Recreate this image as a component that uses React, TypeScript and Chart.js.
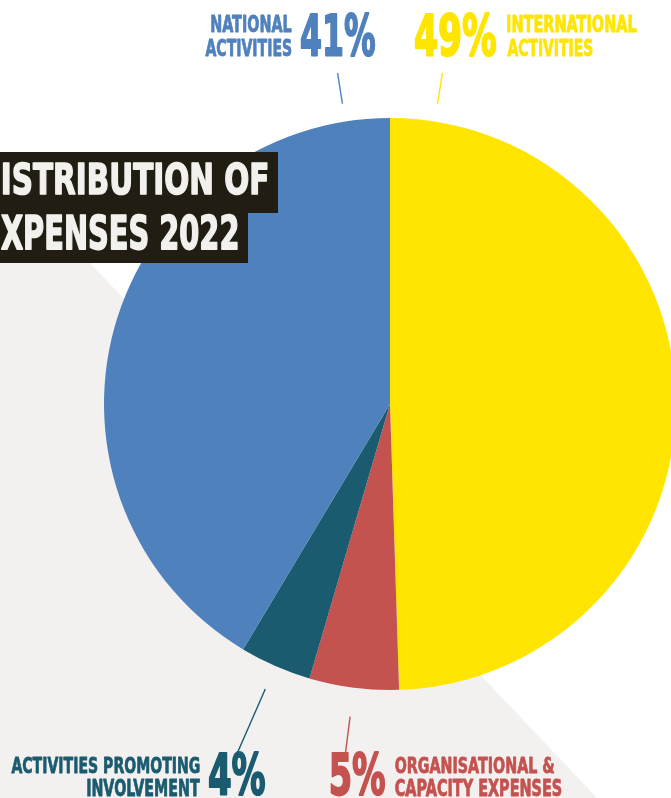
import { useEffect, useRef } from "react";
import { Chart, registerables } from "chart.js";

Chart.register(...registerables);

// ---- data ----
const categories = [
  "International activities",
  "Organisational & capacity expenses",
  "Activities promoting involvement",
  "National activities",
];
const values = [49, 5, 4, 41];
const sliceColors = ["#FFE500", "#C4524F", "#1B5B70", "#4F81BD"];
const percentLabels = values.map((v) => `${v}%`);
const nameLines = [
  ["INTERNATIONAL", "ACTIVITIES"],
  ["ORGANISATIONAL &", "CAPACITY EXPENSES"],
  ["ACTIVITIES PROMOTING", "INVOLVEMENT"],
  ["NATIONAL", "ACTIVITIES"],
];
const titleLines = ["ISTRIBUTION OF", "XPENSES 2022"];

// ---- layout (styling only) ----
type Box = [number, number, number, number]; // left, right, capTop, baseline
const pctBoxes: Box[] = [
  [414, 497, 13, 57],
  [330, 386, 752, 796],
  [208, 266, 752, 796],
  [300, 376, 13, 57],
];
const nameBoxes: Box[][] = [
  [[507, 637, 15, 32], [507, 593, 39, 56]],
  [[395, 555, 757, 773], [395, 562, 779, 796]],
  [[11, 200, 757, 773], [87, 200, 779, 796]],
  [[211, 292, 15, 32], [205, 292, 39, 56]],
];
// leader: anchor on slice, angular offset (deg), inner/outer radius
const leaders: { anchor: "start" | "end" | "mid"; off: number; r1: number; r2: number }[] = [
  { anchor: "start", off: 9, r1: 304, r2: 335 },
  { anchor: "mid", off: 0, r1: 315, r2: 358 },
  { anchor: "mid", off: 0, r1: 311, r2: 382 },
  { anchor: "end", off: -9, r1: 304, r2: 335 },
];
const titleBoxes: Box[] = [
  [2, 268, 162, 195],
  [0, 238, 215, 250],
];
const FONT = `"DejaVu Sans", "Liberation Sans", sans-serif`;

function fitText(ctx: CanvasRenderingContext2D, text: string, b: Box, color: string) {
  const [left0, right0, capTop0, base0] = b;
  const capH0 = base0 - capTop0;
  const sw = capH0 * 0.05; // stroke width to add weight
  const left = left0 + sw / 2;
  const right = right0 - sw / 2;
  const capTop = capTop0 + sw / 2;
  const base = base0 - sw / 2;
  ctx.save();
  ctx.font = `bold 100px ${FONT}`;
  const capRatio = ctx.measureText("H").actualBoundingBoxAscent / 100 || 0.72;
  const size = (base - capTop) / capRatio;
  ctx.font = `bold ${size}px ${FONT}`;
  ctx.textAlign = "left";
  ctx.textBaseline = "alphabetic";
  const m = ctx.measureText(text);
  const ink = m.actualBoundingBoxRight + m.actualBoundingBoxLeft || m.width;
  const sx = (right - left) / ink;
  ctx.translate(left + m.actualBoundingBoxLeft * sx, base);
  ctx.scale(sx, 1);
  ctx.fillStyle = color;
  ctx.strokeStyle = color;
  ctx.lineJoin = "round";
  ctx.lineWidth = sw;
  ctx.fillText(text, 0, 0);
  ctx.strokeText(text, 0, 0);
  ctx.restore();
}

const decorPlugin = {
  id: "decor",
  beforeDraw(chart: any) {
    const ctx: CanvasRenderingContext2D = chart.ctx;
    const w = chart.width;
    const h = chart.height;
    ctx.save();
    ctx.fillStyle = "#ffffff";
    ctx.fillRect(0, 0, w, h);
    ctx.fillStyle = "#F2F1EF";
    ctx.beginPath();
    ctx.moveTo(0, 168);
    ctx.lineTo(597, h);
    ctx.lineTo(0, h);
    ctx.closePath();
    ctx.fill();
    ctx.restore();
  },
  afterDatasetsDraw(chart: any) {
    const ctx: CanvasRenderingContext2D = chart.ctx;
    const meta = chart.getDatasetMeta(0);
    // title
    ctx.save();
    ctx.fillStyle = "#211D12";
    ctx.fillRect(0, 152, 278, 61);
    ctx.fillRect(0, 212, 248, 51);
    ctx.restore();
    titleLines.forEach((t, i) => fitText(ctx, t, titleBoxes[i], "#F2F1EE"));

    meta.data.forEach((arc: any, i: number) => {
      const L = leaders[i];
      let a = (arc.startAngle + arc.endAngle) / 2;
      if (L.anchor === "start") a = arc.startAngle;
      if (L.anchor === "end") a = arc.endAngle;
      a += (L.off * Math.PI) / 180;
      ctx.save();
      ctx.strokeStyle = sliceColors[i];
      ctx.lineWidth = 1.4;
      ctx.beginPath();
      ctx.moveTo(arc.x + L.r1 * Math.cos(a), arc.y + L.r1 * Math.sin(a));
      ctx.lineTo(arc.x + L.r2 * Math.cos(a), arc.y + L.r2 * Math.sin(a));
      ctx.stroke();
      ctx.restore();
      fitText(ctx, percentLabels[i], pctBoxes[i], sliceColors[i]);
      nameLines[i].forEach((t, j) => fitText(ctx, t, nameBoxes[i][j], sliceColors[i]));
    });
  },
};

export default function App() {
  const ref = useRef<HTMLCanvasElement>(null);
  useEffect(() => {
    document.body.style.margin = "0";
    if (!ref.current) return;
    const chart = new Chart(ref.current, {
      type: "pie",
      data: {
        labels: categories,
        datasets: [
          {
            data: values,
            backgroundColor: sliceColors,
            borderWidth: 0,
            hoverOffset: 0,
            radius: 286,
            clip: false,
          } as any,
        ],
      },
      options: {
        responsive: false,
        animation: false,
        events: [],
        layout: { padding: { left: 109, right: 0, top: 10, bottom: 0 } },
        plugins: { legend: { display: false }, tooltip: { enabled: false } },
      },
      plugins: [decorPlugin],
    });
    return () => chart.destroy();
  }, []);
  return (
    <div style={{ width: 671, height: 798, overflow: "hidden" }}>
      <canvas ref={ref} width={671} height={798} style={{ display: "block", width: 671, height: 798 }} />
    </div>
  );
}
